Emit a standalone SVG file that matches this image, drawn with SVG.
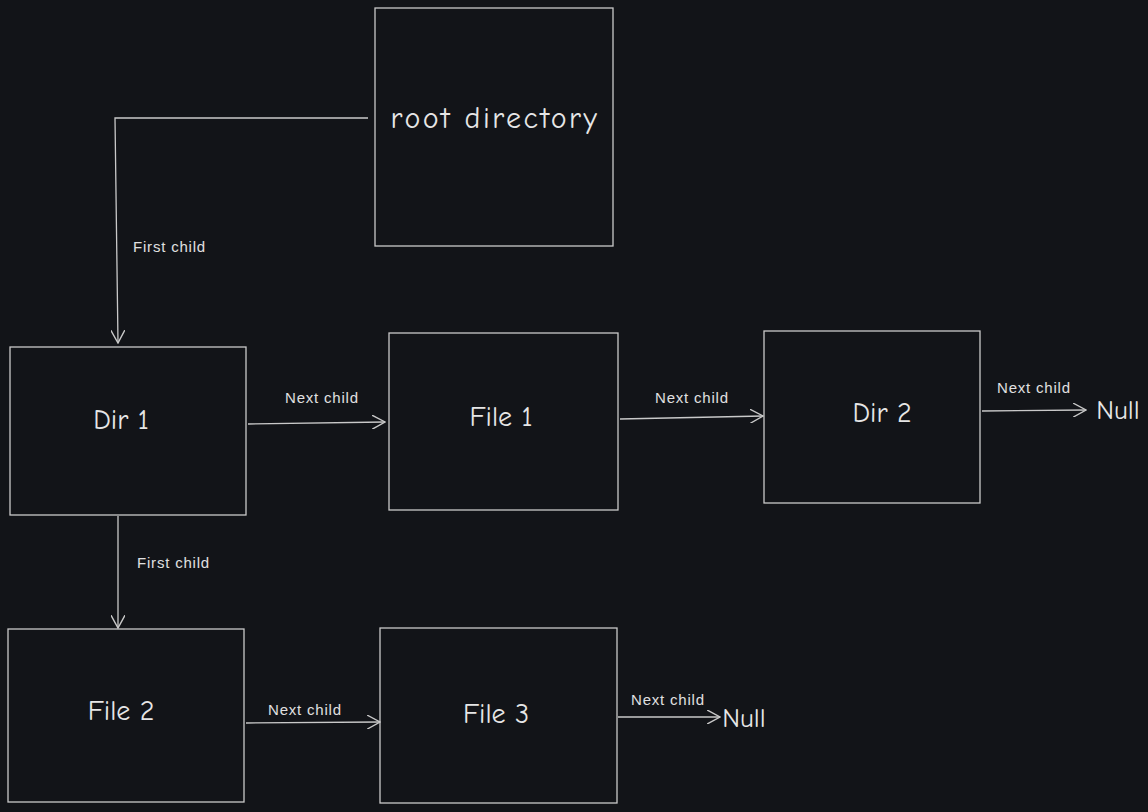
<svg xmlns="http://www.w3.org/2000/svg" width="1148" height="812" viewBox="0 0 1148 812">
<style>
.box{fill:#121418;stroke:#c9c9c9;stroke-width:1.3}
.t{font-family:"Comic Neue","Liberation Sans",sans-serif;fill:#e6e6e6;text-anchor:middle;dominant-baseline:middle}
.big{font-size:28px}
.lbl{font-family:"Liberation Sans",sans-serif;fill:#e0e0e0;font-size:15px;letter-spacing:0.8px}
.c{fill:none;stroke:#c9c9c9;stroke-width:1.3}
</style>
<defs>
<marker id="ah" viewBox="0 0 12 12" refX="11" refY="6" markerWidth="14" markerHeight="14" markerUnits="userSpaceOnUse" orient="auto">
<path d="M0,0 L11,6 L0,12" fill="none" stroke="#c9c9c9" stroke-width="1.2"/>
</marker>
</defs>
<rect width="1148" height="812" fill="#121418"/>
<g id="root"><rect class="box" x="375" y="8" width="238" height="238"/><text class="t" x="495" y="121" font-size="30" letter-spacing="2.5">root directory</text></g>
<g id="dir1"><rect class="box" x="10" y="347" width="236" height="168"/><text class="t big" x="121" y="422">Dir 1</text></g>
<g id="file1"><rect class="box" x="389" y="333" width="229" height="177"/><text class="t big" x="501" y="419">File 1</text></g>
<g id="dir2"><rect class="box" x="764" y="331" width="216" height="172"/><text class="t big" x="882" y="415">Dir 2</text></g>
<g id="file2"><rect class="box" x="8" y="629" width="236" height="173"/><text class="t big" x="121" y="713">File 2</text></g>
<g id="file3"><rect class="box" x="380" y="628" width="237" height="175"/><text class="t big" x="496" y="716">File 3</text></g>
<g id="null1"><text class="t" x="1118" y="412" font-size="27">Null</text></g>
<g id="null2"><text class="t" x="744" y="720" font-size="27">Null</text></g>
<g id="connectors">
<polyline class="c" points="368,118 115,118 118,343" marker-end="url(#ah)"/>
<text class="lbl" x="133" y="252">First child</text>
<line class="c" x1="248" y1="424" x2="385" y2="422" marker-end="url(#ah)"/>
<text class="lbl" x="285" y="403">Next child</text>
<line class="c" x1="620" y1="419" x2="763" y2="416" marker-end="url(#ah)"/>
<text class="lbl" x="655" y="403">Next child</text>
<line class="c" x1="982" y1="411" x2="1086" y2="410" marker-end="url(#ah)"/>
<text class="lbl" x="997" y="393">Next child</text>
<line class="c" x1="118" y1="516" x2="118" y2="628" marker-end="url(#ah)"/>
<text class="lbl" x="137" y="568">First child</text>
<line class="c" x1="246" y1="723" x2="380" y2="722" marker-end="url(#ah)"/>
<text class="lbl" x="268" y="715">Next child</text>
<line class="c" x1="618" y1="717" x2="720" y2="717" marker-end="url(#ah)"/>
<text class="lbl" x="631" y="705">Next child</text>
</g>
</svg>
